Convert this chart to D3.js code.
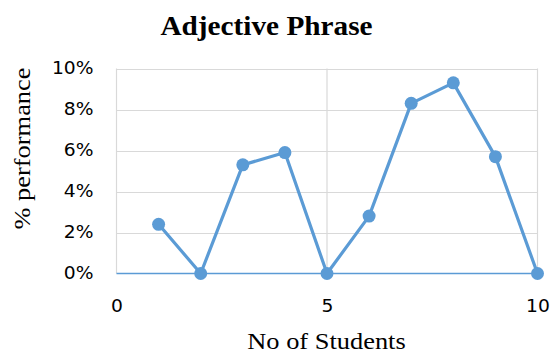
<!DOCTYPE html>
<html><head><meta charset="utf-8">
<script src="https://cdn.jsdelivr.net/npm/d3@7"></script>
<style>body{margin:0;background:#fff}svg{display:block}</style>
</head><body>
<script>
const title = "Adjective Phrase";
const xLabel = "No of Students";
const yLabel = "% performance";
const xValues = [1, 2, 3, 4, 5, 6, 7, 8, 9, 10];
const yValues = [0.024, 0.0, 0.053, 0.059, 0.0, 0.028, 0.083, 0.093, 0.057, 0.0];
const xTicks = [0, 5, 10];
const yTicks = [0, 0.02, 0.04, 0.06, 0.08, 0.10];

const W = 553, H = 353;
const svg = d3.select("body").append("svg").attr("width", W).attr("height", H);
const x = d3.scaleLinear().domain([0, 10]).range([116.5, 537.5]);
const y = d3.scaleLinear().domain([0, 0.10]).range([273.5, 68.5]);
const blue = "#5B9BD5";
function widen(sel, k) {
  sel.each(function () {
    const len = this.getComputedTextLength();
    d3.select(this).attr("textLength", len * k).attr("lengthAdjust", "spacingAndGlyphs");
  });
}

// gridlines
svg.append("g").selectAll("line").data(yTicks.filter(d => d > 0)).join("line")
  .attr("x1", x(0)).attr("x2", x(10)).attr("y1", d => Math.round(y(d)) + 0.5).attr("y2", d => Math.round(y(d)) + 0.5)
  .attr("stroke", "#d9d9d9").attr("stroke-width", 1.2);
svg.append("g").selectAll("line").data(xTicks).join("line")
  .attr("x1", d => x(d)).attr("x2", d => x(d)).attr("y1", y(0.10)).attr("y2", y(0))
  .attr("stroke", "#d9d9d9").attr("stroke-width", 1.2);
// baseline axis
svg.append("line").attr("x1", x(0)).attr("x2", x(10)).attr("y1", y(0)).attr("y2", y(0))
  .attr("stroke", blue).attr("stroke-width", 1.3);

// y tick labels
const yAxis = d3.axisLeft(y).tickValues(yTicks).tickFormat(d3.format(".0%")).tickSize(0).tickPadding(23);
const gy = svg.append("g").attr("transform", `translate(${x(0)},0)`).call(yAxis);
gy.select(".domain").remove();
gy.selectAll("text").attr("font-family", "'DejaVu Sans', sans-serif").attr("font-size", 17).attr("fill", "#000").call(widen, 1.1);

const xAxis = d3.axisBottom(x).tickValues(xTicks).tickFormat(d3.format("d")).tickSize(0).tickPadding(26);
const gx = svg.append("g").attr("transform", `translate(0,${y(0)})`).call(xAxis);
gx.select(".domain").remove();
gx.selectAll("text").attr("font-family", "'DejaVu Sans', sans-serif").attr("font-size", 17).attr("fill", "#000").call(widen, 1.1);

// line
const pts = xValues.map((v, i) => [v, yValues[i]]);
svg.append("path").datum(pts)
  .attr("d", d3.line().x(d => x(d[0])).y(d => y(d[1])))
  .attr("fill", "none").attr("stroke", blue).attr("stroke-width", 3.2).attr("stroke-linejoin", "round");
svg.append("g").selectAll("circle").data(pts).join("circle")
  .attr("cx", d => x(d[0])).attr("cy", d => y(d[1])).attr("r", 6.5).attr("fill", blue);

// title & labels
svg.append("text").attr("x", 266.5).attr("y", 35).attr("text-anchor", "middle")
  .attr("font-family", "'Liberation Serif', serif").attr("font-weight", "bold").attr("font-size", 28)
  .attr("fill", "#000").text(title).call(widen, 1.045);
svg.append("text").attr("x", 326.5).attr("y", 349).attr("text-anchor", "middle")
  .attr("font-family", "'Liberation Serif', serif").attr("font-size", 24)
  .attr("fill", "#000").text(xLabel).call(widen, 1.1);
svg.append("text").attr("transform", "translate(30,148.5) rotate(-90)").attr("text-anchor", "middle")
  .attr("font-family", "'Liberation Serif', serif").attr("font-size", 24)
  .attr("fill", "#000").text(yLabel).call(widen, 1.1);
</script>
</body></html>
